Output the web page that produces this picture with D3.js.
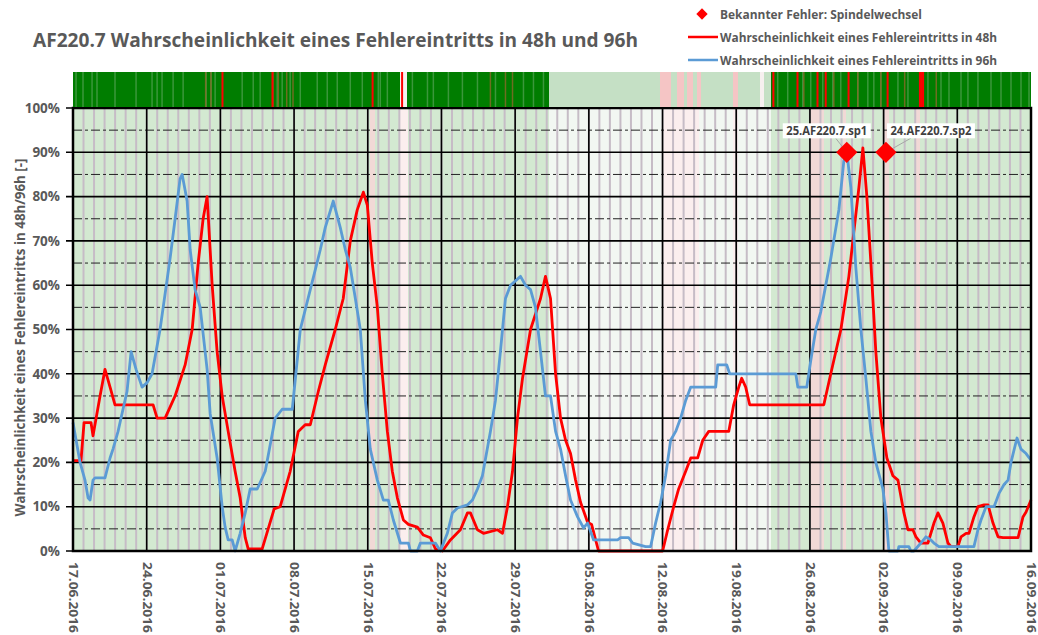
<!DOCTYPE html>
<html>
<head>
<meta charset="utf-8">
<script src="https://cdnjs.cloudflare.com/ajax/libs/d3/7.8.5/d3.min.js"></script>
<style>
    body { margin: 0; background: #fff; }
    text { font-family: "Open Sans", "Noto Sans", sans-serif; }
</style>
</head>
<body>
<div id="chart"></div>
<script>
// ---- data (t = days since 17.06.2016 00:00, value in %) ----
const startDate = new Date(2016, 5, 17);
const endDate = new Date(2016, 8, 16);

const xTickLabels = ['17.06.2016', '24.06.2016', '01.07.2016', '08.07.2016', '15.07.2016', '22.07.2016',
    '29.07.2016', '05.08.2016', '12.08.2016', '19.08.2016', '26.08.2016', '02.09.2016', '09.09.2016', '16.09.2016'];
const yTicks = [0, 10, 20, 30, 40, 50, 60, 70, 80, 90, 100];
const yMinorTicks = [5, 15, 25, 35, 45, 55, 65, 75, 85, 95];

const legendLabels = ['Bekannter Fehler: Spindelwechsel',
    'Wahrscheinlichkeit eines Fehlereintritts in 48h',
    'Wahrscheinlichkeit eines Fehlereintritts in 96h'];

const prob48 = [
    [0, 20.4], [0.76, 20.4], [1.05, 29], [1.71, 29], [1.9, 26], [2.57, 35], [3.04, 41], [3.52, 37], [3.99, 33],
    [7.61, 33], [7.99, 30], [8.75, 30], [9.7, 35], [10.65, 42], [11.32, 50], [11.89, 65], [12.36, 75], [12.74, 80],
    [13.22, 60], [13.69, 45], [14.17, 35], [14.74, 27], [15.4, 18], [15.88, 12], [16.36, 3], [16.64, 0.5],
    [17.97, 0.5], [18.54, 5], [19.11, 9.5], [19.68, 10], [20.63, 18], [21.4, 27], [22.06, 28.5], [22.54, 28.5],
    [23.3, 36], [23.96, 42], [24.91, 50], [25.67, 57], [26.34, 70], [27.0, 77], [27.58, 81], [27.96, 78],
    [28.43, 65], [28.91, 55], [29.38, 40], [29.86, 27], [30.33, 18], [30.81, 12], [31.38, 7], [31.86, 6],
    [32.71, 5.4], [33.28, 3.6], [33.95, 3], [34.42, 0.5], [35.09, 0], [35.85, 2.5], [36.8, 4.8], [37.47, 8.6],
    [37.75, 8.6], [38.42, 4.8], [38.99, 4], [40.32, 4.8], [40.8, 4], [41.27, 10], [41.75, 18], [42.22, 30],
    [42.7, 39], [43.46, 50], [44.41, 57], [44.88, 62], [45.36, 57], [45.84, 40], [46.31, 30], [46.79, 25],
    [47.26, 22], [47.74, 16], [48.21, 11], [48.88, 6.5], [49.26, 6], [49.92, 0], [56.01, 0], [56.49, 4.8],
    [57.06, 10], [57.53, 14], [58.2, 18], [58.68, 21], [59.34, 21], [59.82, 25], [60.39, 27], [62.29, 27],
    [62.76, 33], [63.24, 37], [63.52, 39], [63.9, 37], [64.28, 33], [71.32, 33], [71.98, 40], [72.94, 50],
    [73.7, 62], [74.17, 72], [74.65, 82], [75.03, 91], [75.41, 80], [75.79, 65], [76.26, 45], [76.74, 30],
    [77.31, 21], [77.88, 17], [78.36, 16], [78.93, 8.6], [79.31, 4.8], [79.78, 4.8], [80.07, 3.2], [80.54, 1.8],
    [81.21, 1.8], [81.49, 4], [81.78, 6.3], [82.16, 8.6], [82.63, 6.3], [83.11, 1.8], [83.4, 1], [84.06, 1],
    [84.35, 3.2], [84.83, 4], [85.11, 4], [85.58, 7.7], [85.96, 10], [86.54, 10.4], [86.92, 10.4], [87.39, 6.3],
    [87.87, 3.2], [88.34, 3], [89.77, 3], [90.24, 7.7], [90.53, 8.8], [91, 11.5]
];

const prob96 = [
    [0, 29], [0.67, 20], [1.14, 16], [1.43, 12], [1.62, 11.5], [1.9, 16], [2.09, 16.5], [3.04, 16.5], [3.52, 21],
    [3.8, 23], [4.28, 27], [4.75, 32], [5.13, 36], [5.52, 45], [5.99, 41], [6.56, 37], [7.04, 38], [7.51, 40],
    [8.27, 50], [9.22, 66], [9.7, 75], [10.17, 84], [10.37, 85], [10.84, 79], [11.13, 68], [11.6, 59], [12.08, 55],
    [12.74, 41], [13.03, 31], [13.69, 21], [14.17, 10], [14.45, 5.4], [14.74, 2.5], [15.12, 2.5], [15.4, 0],
    [15.88, 4], [16.36, 8.6], [16.83, 14], [17.5, 14], [18.26, 18], [19.21, 30], [19.87, 32], [20.83, 32],
    [21.59, 50], [22.54, 59], [23.49, 68], [23.96, 73], [24.72, 79], [25.39, 73], [25.87, 68], [26.34, 64],
    [26.82, 57], [27.29, 50], [27.77, 34], [28.24, 23], [28.91, 16], [29.48, 11.5], [29.95, 11.5], [30.43, 7],
    [31.1, 1.8], [31.86, 1.8], [32.05, 0], [32.71, 0], [33.0, 1.8], [34.42, 1.8], [34.9, 0], [35.56, 4],
    [36.04, 8.6], [36.52, 9.7], [37.47, 10.4], [37.94, 11.5], [38.42, 14], [38.89, 17], [39.65, 27], [40.13, 34],
    [40.6, 45], [41.08, 57], [41.56, 60], [42.51, 62], [42.98, 60], [43.46, 59], [43.93, 55], [44.41, 45],
    [44.88, 35], [45.36, 35], [45.84, 27], [46.31, 23], [46.79, 17], [47.26, 11.5], [47.93, 7.7], [48.5, 5.2],
    [48.88, 6.3], [49.45, 2.5], [51.73, 2.5], [52.02, 3], [52.78, 3], [53.16, 1.8], [54.39, 1], [54.87, 1],
    [55.34, 6.3], [55.82, 11], [56.29, 17], [56.77, 25], [57.25, 27], [57.72, 30], [58.2, 34], [58.68, 37],
    [61.05, 37], [61.24, 42], [62.1, 42], [62.38, 40], [68.66, 40], [68.85, 37], [69.7, 37], [70.08, 43],
    [70.56, 50], [71.03, 54], [71.98, 66], [72.75, 77], [73.22, 88], [73.51, 90], [73.89, 82], [74.36, 64],
    [74.84, 50], [75.31, 39], [75.79, 27], [76.26, 20], [76.93, 14], [77.22, 8.6], [77.5, 0], [78.36, 0],
    [78.45, 1], [79.4, 1], [79.59, 0], [79.88, 0], [80.54, 1.8], [81.02, 3.2], [81.49, 2.5], [81.78, 1.8],
    [82.25, 1], [85.58, 1], [85.96, 4.8], [86.25, 7], [86.73, 10], [87.49, 10], [87.96, 13], [88.44, 15],
    [88.82, 16], [89.1, 20], [89.67, 25.5], [90.05, 23], [90.53, 22], [91, 20.5]
];

const faultDays = [73.5, 77.22];
const faultValues = [90, 90];
const faultLabels = ['25.AF220.7.sp1', '24.AF220.7.sp2'];

// machine state per period in the plot background: g = running, w = idle, p = fault, q = idle fault
const bgSegments = [
    [0, 28.2, 'g'], [28.2, 28.7, 'p'], [28.7, 31.1, 'g'], [31.1, 31.8, 'q'], [31.8, 45.2, 'g'],
    [45.2, 56.0, 'w'], [56.0, 59.5, 'q'], [59.5, 62.7, 'w'], [62.7, 63.2, 'q'], [63.2, 66.3, 'w'],
    [66.3, 70.1, 'g'], [70.1, 71.3, 'p'], [71.3, 73.1, 'g'], [73.1, 73.4, 'p'], [73.4, 77.0, 'g'],
    [77.0, 77.5, 'p'], [77.5, 80.0, 'g'], [80.0, 80.5, 'p'], [80.5, 91, 'g']
];

// status strip above the plot
const stripSegments = [
    [0, 31.1, 'G'], [31.1, 31.75, 'W'], [31.75, 45.2, 'G'], [45.2, 55.8, 'L'], [55.8, 56.8, 'P'],
    [56.8, 57.4, 'L'], [57.4, 58.0, 'P'], [58.0, 58.3, 'L'], [58.3, 58.9, 'P'], [58.9, 59.3, 'L'],
    [59.3, 59.7, 'P'], [59.7, 62.7, 'L'], [62.7, 63.2, 'P'], [63.2, 65.3, 'L'], [65.3, 65.6, 'W'],
    [65.6, 66.3, 'L'], [66.3, 91, 'G']
];
const stripRed = [14.2, 18.95, 28.46, 31.26, 66.53, 68.82, 70.72, 71.5, 73.67, 77.38, 80.45, 80.6, 80.75];
const stripBrown = [12.6, 13.1, 19.0, 19.5, 20.3, 20.9, 39.65, 41.08, 41.75, 69.42, 72.27, 74.55, 76.74, 79.0, 82.0];
const stripFaint = [0.29, 0.95, 1.81, 2.28, 3.99, 5.99, 7.51, 7.99, 8.46, 9.51, 10.46, 12.65, 13.12, 13.5, 16.07,
    17.12, 17.78, 19.4, 19.87, 20.63, 21.59, 23.2, 24.15, 25.1, 26.34, 27.48, 29.0, 29.19, 29.86, 32.24, 33.67,
    34.23, 35.66, 36.99, 38.42, 40.13, 42.79, 43.74, 44.69, 66.94, 67.89, 69.32, 70.08, 71.22, 72.17, 72.93,
    74.55, 75.5, 76.07, 76.74, 78.36, 79.31, 81.21, 82.45, 83.21, 84.35, 85.01, 85.96, 87.2, 88.15, 89.1, 90.05, 90.81];

// ---- chart ----
const W = 1038, H = 635;
const margin = { left: 73, right: 7, top: 108, bottom: 84 };
const width = W - margin.left - margin.right,
    height = H - margin.top - margin.bottom;
const grey = '#595959';
const bgColor = { g: '#d3e9d1', w: '#f2f7f2', p: '#f1d9d6', q: '#fbeeee' };
const stripColor = { G: '#007d00', L: '#c5e0c5', P: '#f5c5c5', W: '#f7f0f0' };

const dayMs = 24 * 60 * 60 * 1000;
function toDate(t) {
    return new Date(startDate.getTime() + t * dayMs);
}

const x = d3.scaleTime().domain([startDate, endDate]).range([0, width]);
const y = d3.scaleLinear().domain([0, 100]).range([height, 0]);
const parseTick = d3.timeParse('%d.%m.%Y');
const tickDates = xTickLabels.map(parseTick);

const svg = d3.select('#chart').append('svg')
    .attr('width', W)
    .attr('height', H);

svg.append('text')
    .attr('x', 33).attr('y', 47)
    .attr('fill', grey)
    .attr('font-size', 20).attr('font-weight', 'bold')
    .attr('textLength', 605).attr('lengthAdjust', 'spacingAndGlyphs')
    .text('AF220.7 Wahrscheinlichkeit eines Fehlereintritts in 48h und 96h');

// legend
const legend = svg.append('g').attr('transform', 'translate(688,14)');
legend.append('rect')
    .attr('x', 14 - 4).attr('y', -4).attr('width', 8).attr('height', 8)
    .attr('transform', 'rotate(45,14,0)')
    .attr('fill', '#ff0000');
legend.append('line').attr('x1', 0).attr('x2', 30).attr('y1', 23).attr('y2', 23)
    .attr('stroke', '#ff0000').attr('stroke-width', 2.5);
legend.append('line').attr('x1', 0).attr('x2', 30).attr('y1', 46).attr('y2', 46)
    .attr('stroke', '#5b9bd5').attr('stroke-width', 2.5);
const legendLen = [202, 277, 277];
legend.selectAll('.legtext')
    .data(legendLabels)
    .enter().append('text')
    .attr('class', 'legtext')
    .attr('x', 32)
    .attr('y', function(d, i) { return i * 23; })
    .attr('dy', '0.35em')
    .attr('fill', grey)
    .attr('font-size', 13).attr('font-weight', 'bold')
    .attr('textLength', function(d, i) { return legendLen[i]; })
    .attr('lengthAdjust', 'spacingAndGlyphs')
    .text(function(d) { return d; });

const focus = svg.append('g')
    .attr('transform', 'translate(' + margin.left + ',' + margin.top + ')');

// plot background
focus.selectAll('.bg')
    .data(bgSegments)
    .enter().append('rect')
    .attr('class', 'bg')
    .attr('x', function(d) { return x(toDate(d[0])); })
    .attr('width', function(d) { return x(toDate(d[1])) - x(toDate(d[0])); })
    .attr('y', 0).attr('height', height)
    .attr('fill', function(d) { return bgColor[d[2]]; })
    .attr('shape-rendering', 'crispEdges');

// daily grid
focus.selectAll('.day')
    .data(d3.timeDay.range(startDate, endDate))
    .enter().append('line')
    .attr('class', 'day')
    .attr('x1', function(d) { return x(d); }).attr('x2', function(d) { return x(d); })
    .attr('y1', 0).attr('y2', height)
    .attr('stroke', '#c6bcc6').attr('stroke-width', 2);

// status strip
const strip = svg.append('g').attr('transform', 'translate(' + margin.left + ',72)');
const stripH = 35;
strip.selectAll('.seg')
    .data(stripSegments)
    .enter().append('rect')
    .attr('class', 'seg')
    .attr('x', function(d) { return x(toDate(d[0])); })
    .attr('width', function(d) { return x(toDate(d[1])) - x(toDate(d[0])); })
    .attr('y', 0).attr('height', stripH)
    .attr('fill', function(d) { return stripColor[d[2]]; })
    .attr('shape-rendering', 'crispEdges');
strip.selectAll('.faint')
    .data(stripFaint)
    .enter().append('line')
    .attr('class', 'faint')
    .attr('x1', function(d) { return x(toDate(d)); }).attr('x2', function(d) { return x(toDate(d)); })
    .attr('y1', 0).attr('y2', stripH)
    .attr('stroke', '#4a9e4a').attr('stroke-width', 1.5).attr('opacity', 0.8);
strip.selectAll('.brown')
    .data(stripBrown)
    .enter().append('line')
    .attr('class', 'brown')
    .attr('x1', function(d) { return x(toDate(d)); }).attr('x2', function(d) { return x(toDate(d)); })
    .attr('y1', 0).attr('y2', stripH)
    .attr('stroke', '#8a6a2a').attr('stroke-width', 1.5).attr('opacity', 0.8);
strip.selectAll('.red')
    .data(stripRed)
    .enter().append('line')
    .attr('class', 'red')
    .attr('x1', function(d) { return x(toDate(d)); }).attr('x2', function(d) { return x(toDate(d)); })
    .attr('y1', 0).attr('y2', stripH)
    .attr('stroke', '#ff0000').attr('stroke-width', 2);

// horizontal grid
focus.selectAll('.ymin')
    .data(yMinorTicks)
    .enter().append('line')
    .attr('class', 'ymin')
    .attr('x1', 0).attr('x2', width)
    .attr('y1', function(d) { return y(d); }).attr('y2', function(d) { return y(d); })
    .attr('stroke', '#222').attr('stroke-width', 1)
    .attr('stroke-dasharray', '9,3,3,3');
focus.selectAll('.ymaj')
    .data(yTicks)
    .enter().append('line')
    .attr('class', 'ymaj')
    .attr('x1', -7).attr('x2', width)
    .attr('y1', function(d) { return y(d); }).attr('y2', function(d) { return y(d); })
    .attr('stroke', '#000').attr('stroke-width', 1.6);
focus.selectAll('.xmaj')
    .data(tickDates)
    .enter().append('line')
    .attr('class', 'xmaj')
    .attr('x1', function(d) { return x(d); }).attr('x2', function(d) { return x(d); })
    .attr('y1', 0).attr('y2', height)
    .attr('stroke', '#000').attr('stroke-width', 1.6);

// y labels
focus.selectAll('.ylab')
    .data(yTicks)
    .enter().append('text')
    .attr('class', 'ylab')
    .attr('x', -13)
    .attr('y', function(d) { return y(d); })
    .attr('dy', '0.35em')
    .attr('text-anchor', 'end')
    .attr('fill', grey)
    .attr('font-size', 13.5).attr('font-weight', 'bold')
    .text(function(d) { return d + '%'; });

// x labels
focus.selectAll('.xlab')
    .data(tickDates)
    .enter().append('text')
    .attr('class', 'xlab')
    .attr('transform', function(d) { return 'translate(' + x(d) + ',' + (height + 11) + ') rotate(90)'; })
    .attr('dy', '0.32em')
    .attr('fill', grey)
    .attr('font-size', 13).attr('font-weight', 'bold')
    .attr('textLength', 71).attr('lengthAdjust', 'spacingAndGlyphs')
    .text(function(d, i) { return xTickLabels[i]; });

svg.append('text')
    .attr('transform', 'translate(20,' + (margin.top + height / 2 + 8) + ') rotate(-90)')
    .attr('text-anchor', 'middle')
    .attr('dy', '0.35em')
    .attr('fill', grey)
    .attr('font-size', 14).attr('font-weight', 'bold')
    .attr('textLength', 358).attr('lengthAdjust', 'spacingAndGlyphs')
    .text('Wahrscheinlichkeit eines Fehlereintritts in 48h/96h [-]');

// series
const line = d3.line()
    .x(function(d) { return x(toDate(d[0])); })
    .y(function(d) { return y(d[1]); });

focus.append('path')
    .datum(prob48)
    .attr('d', line)
    .attr('fill', 'none')
    .attr('stroke', '#ff0000')
    .attr('stroke-width', 2.8)
    .attr('stroke-linejoin', 'round');
focus.append('path')
    .datum(prob96)
    .attr('d', line)
    .attr('fill', 'none')
    .attr('stroke', '#5b9bd5')
    .attr('stroke-width', 2.8)
    .attr('stroke-linejoin', 'round');

// border
focus.append('rect')
    .attr('x', 0).attr('y', 0).attr('width', width).attr('height', height)
    .attr('fill', 'none').attr('stroke', '#000').attr('stroke-width', 2.5);

// known faults
const labelOffset = [[-20, -22], [45, -22]];
const faults = faultDays.map(function(t, i) {
    return { cx: x(toDate(t)), cy: y(faultValues[i]), label: faultLabels[i], off: labelOffset[i] };
});
const fg = focus.selectAll('.fault')
    .data(faults)
    .enter().append('g')
    .attr('class', 'fault');
fg.append('line')
    .attr('x1', function(d) { return d.cx + d.off[0] * 0.55; })
    .attr('y1', function(d) { return d.cy + d.off[1] + 8; })
    .attr('x2', function(d) { return d.cx; })
    .attr('y2', function(d) { return d.cy; })
    .attr('stroke', '#a6a6a6').attr('stroke-width', 1);
fg.append('rect')
    .attr('x', function(d) { return d.cx + d.off[0] - 44; })
    .attr('y', function(d) { return d.cy + d.off[1] - 7; })
    .attr('width', 88).attr('height', 15)
    .attr('fill', '#fff');
fg.append('text')
    .attr('x', function(d) { return d.cx + d.off[0]; })
    .attr('y', function(d) { return d.cy + d.off[1]; })
    .attr('dy', '0.35em')
    .attr('text-anchor', 'middle')
    .attr('fill', '#404040')
    .attr('font-size', 12).attr('font-weight', 'bold')
    .attr('textLength', 81).attr('lengthAdjust', 'spacingAndGlyphs')
    .text(function(d) { return d.label; });
fg.append('rect')
    .attr('x', function(d) { return d.cx - 7.5; })
    .attr('y', function(d) { return d.cy - 7.5; })
    .attr('width', 15).attr('height', 15)
    .attr('transform', function(d) { return 'rotate(45,' + d.cx + ',' + d.cy + ')'; })
    .attr('fill', '#ff0000');
</script>
</body>
</html>
